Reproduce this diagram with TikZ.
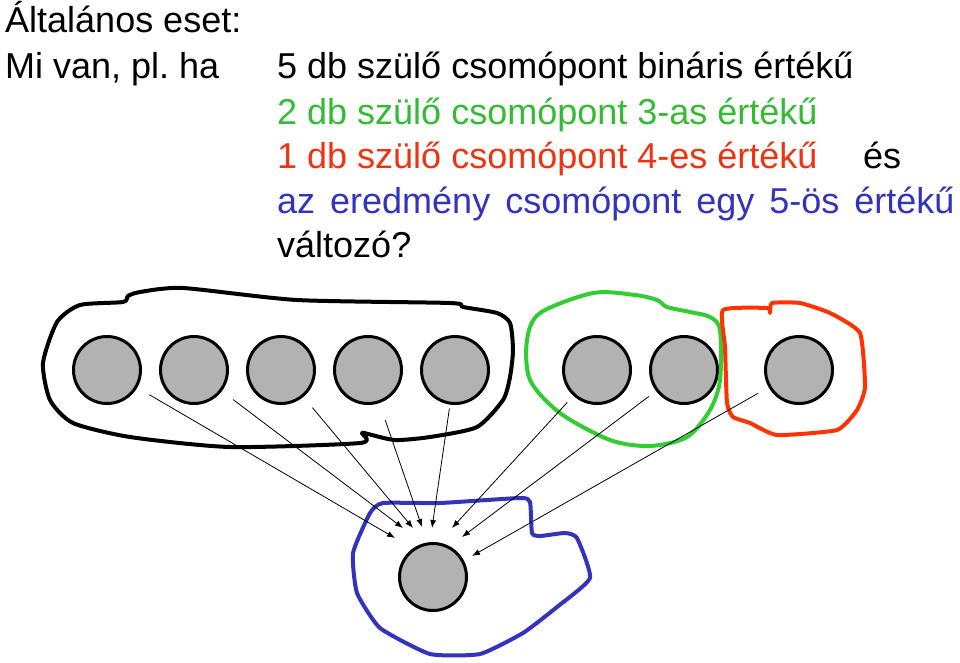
\documentclass[tikz,border=0pt]{standalone}
\usepackage{fontspec}
\setmainfont{Liberation Sans}
\definecolor{txtgreen}{RGB}{51,187,51}
\definecolor{txtred}{RGB}{238,51,17}
\definecolor{txtblue}{RGB}{51,51,187}
\definecolor{blobgreen}{RGB}{51,204,51}
\definecolor{blobred}{RGB}{255,51,0}
\definecolor{nodegray}{RGB}{178,178,178}
\usetikzlibrary{arrows.meta,positioning}

\begin{document}
\begin{tikzpicture}[x=1pt,y=-1pt,node distance=17pt]
  \tikzstyle{textline}=[anchor=base west,inner sep=0pt,font=\fontsize{36}{44}\selectfont]
  \tikzstyle{varnode}=[circle,draw=black,line width=3pt,fill=nodegray,minimum size=67pt,inner sep=0pt]
  \tikzstyle{blob}=[line width=4pt,line join=round]
  \tikzstyle{arrow}=[-{Latex[length=8pt,width=6pt]},line width=0.8pt]

  \useasboundingbox (0,0) rectangle (960,662);

  % question
  \node[textline] (title) at (5,32) {Általános eset:};
  \node[textline] (ask) at (5,78) {Mi van, pl.\ ha};
  \node[textline] (line1) at (277,78) {5 db szülő csomópont bináris értékű};
  \node[textline,text=txtgreen] (line2) at (277,124) {2 db szülő csomópont 3-as értékű};
  \node[textline,text=txtred] (line3) at (277,168) {1 db szülő csomópont 4-es értékű};
  \node[textline] (es) at (863,168) {és};
  \node[textline,text=txtblue] (line4) at (277,213) {\spaceskip=15pt az eredmény csomópont egy 5-ös értékű};
  \node[textline] (line5) at (277,257) {változó?};

  % parents
  \node[varnode] (p1) at (107,370) {};
  \node[varnode,right=of p1] (p2) {};
  \node[varnode,right=of p2] (p3) {};
  \node[varnode,right=of p3] (p4) {};
  \node[varnode,right=of p4] (p5) {};
  \node[varnode,right=72pt of p5] (g1) {};
  \node[varnode,right=of g1] (g2) {};
  \node[varnode,right=45pt of g2] (r1) {};
  % child
  \node[varnode] (child) at (433,577) {};

  % groups
  \draw[blob,black] plot[smooth cycle,tension=0.4] coordinates {
    (43,363) (57,322) (80,305) (123,302) (128,296) (140,292) (183,288) (297,300)
    (450,303) (463,307) (497,313) (510,323) (513,350) (510,377) (503,400) (477,427)
    (430,437) (395,440) (368,434) (362,433) (360,443) (230,447) (130,437) (73,423) (50,400)};
  \draw[blob,blobgreen] plot[smooth cycle,tension=0.5] coordinates {
    (540,313) (593,293) (635,295) (657,300) (667,307) (690,312) (710,317) (720,330)
    (720,380) (710,410) (687,437) (650,446) (610,440) (560,413) (530,380) (527,340)};
  \draw[blob,blobred] plot[smooth cycle,tension=0.3] coordinates {
    (723,310) (767,308) (770,313) (772,303) (800,303) (830,313) (860,333) (865,387)
    (857,410) (837,430) (777,435) (750,423) (733,417) (727,403) (725,347)};
  \draw[blob,txtblue] plot[smooth cycle,tension=0.3] coordinates {
    (370,513) (383,503) (440,503) (520,498) (530,502) (532,533) (540,536) (565,533)
    (577,538) (590,578) (557,607) (523,633) (480,654) (430,654) (380,628) (357,593) (353,553)};

  % arrow ends
  \coordinate (t1) at (395,538);
  \coordinate (t2) at (403,528);
  \coordinate (t3) at (413,528);
  \coordinate (t4) at (422,527);
  \coordinate (t5) at (432,528);
  \coordinate (t6) at (452,528);
  \coordinate (t7) at (462,537);
  \coordinate (t8) at (472,556);

  \foreach \src/\dst/\gap in {p1/t1/14,p2/t2/14,p3/t3/14,p4/t4/18,p5/t5/4,g1/t6/9,g2/t7/9,r1/t8/12}
    \draw[arrow,shorten <=\gap pt] (\src) -- (\dst);
\end{tikzpicture}
\end{document}
